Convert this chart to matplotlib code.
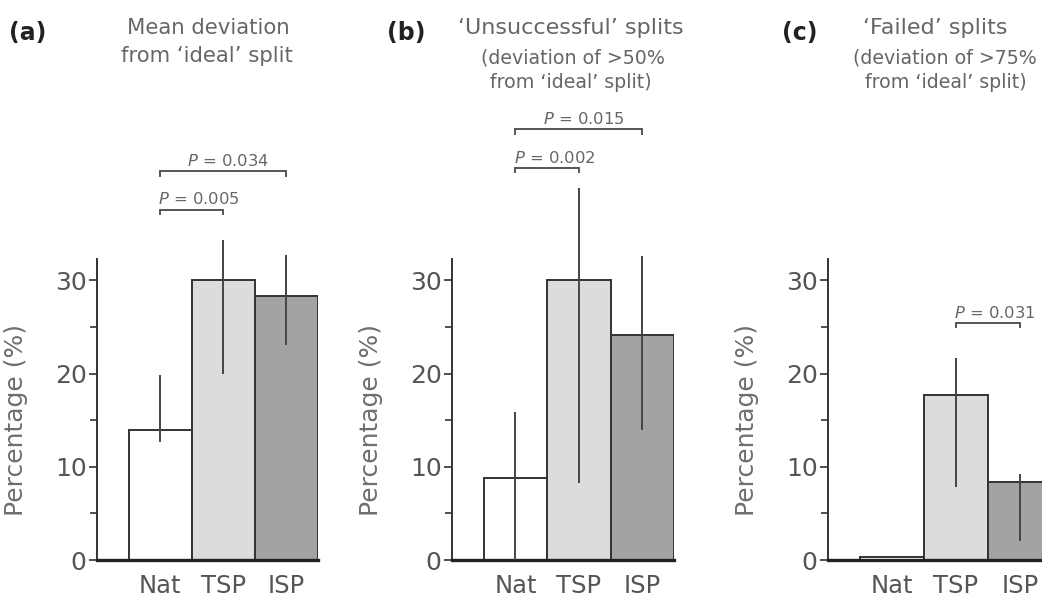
import matplotlib
matplotlib.use('Agg')
import matplotlib.pyplot as plt

plt.rcParams['font.family'] = ['DejaVu Sans']
plt.rcParams['mathtext.fontset'] = 'dejavusans'

groups = ['Nat', 'TSP', 'ISP']
bar_colors = ['#ffffff', '#dcdcdc', '#a3a3a3']

# mean percentage and error bar ends
mean_dev = [14.0, 30.1, 28.3]
mean_dev_lo = [12.7, 20.0, 23.1]
mean_dev_hi = [19.8, 34.3, 32.7]

unsucc = [8.8, 30.0, 24.1]
unsucc_lo = [0.0, 8.3, 14.0]
unsucc_hi = [15.9, 39.9, 32.6]

failed = [0.3, 17.7, 8.4]
failed_lo = [0.3, 7.8, 2.0]
failed_hi = [0.3, 21.7, 9.2]

# comparisons: (group a, group b, P value)
p_mean = [('Nat', 'TSP', '0.005'), ('Nat', 'ISP', '0.034')]
p_unsucc = [('Nat', 'TSP', '0.002'), ('Nat', 'ISP', '0.015')]
p_failed = [('TSP', 'ISP', '0.031')]

panel_labels = ['(a)', '(b)', '(c)']
titles = [
    ['Mean deviation', 'from \u2018ideal\u2019 split'],
    ['\u2018Unsuccessful\u2019 splits', '(deviation of >50%', 'from \u2018ideal\u2019 split)'],
    ['\u2018Failed\u2019 splits', '(deviation of >75%', 'from \u2018ideal\u2019 split)'],
]

W, H = 1042, 596
fig = plt.figure(figsize=(W / 100, H / 100), dpi=100)


def fx(px):
    return px / W


def fy(py):
    return 1 - py / H


panels = [
    (mean_dev, mean_dev_lo, mean_dev_hi, p_mean, 97, 221, [37.6, 41.7]),
    (unsucc, unsucc_lo, unsucc_hi, p_unsucc, 452, 222, [42.1, 46.2]),
    (failed, failed_lo, failed_hi, p_failed, 828, 224, [25.4]),
]

xs = [1, 2, 3]
for vals, lo, hi, comps, left, width, levels in panels:
    ax = fig.add_axes([fx(left), 36 / H, width / W, 301 / H])
    ax.bar(xs, vals, width=1.0, color=bar_colors, edgecolor='#333333', linewidth=1.4, zorder=2)
    ax.vlines(xs, lo, hi, color='#444444', linewidth=1.4, zorder=3, clip_on=False)
    ax.set_xlim(0, 3.5)
    ax.set_ylim(0, 32.3)

    ax.spines['top'].set_visible(False)
    ax.spines['right'].set_visible(False)
    ax.spines['left'].set_color('#333333')
    ax.spines['left'].set_linewidth(1.4)
    ax.spines['bottom'].set_color('#222222')
    ax.spines['bottom'].set_linewidth(2.4)

    ax.set_yticks([0, 10, 20, 30])
    ax.set_yticks([5, 15, 25], minor=True)
    ax.set_xticks(xs)
    ax.set_xticklabels(groups)
    ax.tick_params(axis='y', which='major', direction='out', length=6, width=1.2,
                   color='#333333', labelsize=18, labelcolor='#555555', pad=1.5)
    ax.tick_params(axis='y', which='minor', direction='out', length=5, width=1.2, color='#333333')
    ax.tick_params(axis='x', length=0, labelsize=17.5, labelcolor='#555555', pad=10)

    ax.set_ylabel('Percentage (%)', fontsize=18, color='#6e6e6e')
    ax.yaxis.set_label_coords(-69 / width, 0.465)

    # significance brackets above the bars
    for (ga, gb, p), yb in zip(comps, levels):
        xa = xs[groups.index(ga)]
        xb = xs[groups.index(gb)]
        ax.plot([xa, xa, xb, xb], [yb - 0.45, yb, yb, yb - 0.45], color='#555555',
                linewidth=1.4, clip_on=False, solid_joinstyle='miter')
        label = '$P$ = ' + p
        if xb - xa == 1:
            ax.text(xa - 0.03, yb + 0.55, label, ha='left', va='baseline', fontsize=11.8,
                    color='#666666', clip_on=False)
        else:
            ax.text((xa + xb) / 2 + 0.07, yb + 0.55, label, ha='center', va='baseline',
                    fontsize=11.8, color='#666666', clip_on=False)

# panel letters and titles
label_x = [28, 406, 800]
for lab, x in zip(panel_labels, label_x):
    fig.text(fx(x), fy(40), lab, ha='center', va='baseline', fontsize=17,
             fontweight='bold', color='#222222')

fig.text(fx(208), fy(34), titles[0][0], ha='center', va='baseline', fontsize=15.3, color='#666666')
fig.text(fx(207), fy(62), titles[0][1], ha='center', va='baseline', fontsize=15.3, color='#666666')

title_x = [(571, 573, 571), (935, 945, 946)]
for t, cx in zip(titles[1:], title_x):
    fig.text(fx(cx[0]), fy(34), t[0], ha='center', va='baseline', fontsize=16, color='#666666')
    fig.text(fx(cx[1]), fy(64), t[1], ha='center', va='baseline', fontsize=13.7, color='#666666')
    fig.text(fx(cx[2]), fy(88), t[2], ha='center', va='baseline', fontsize=13.7, color='#666666')

fig.savefig('out.png', dpi=100)
